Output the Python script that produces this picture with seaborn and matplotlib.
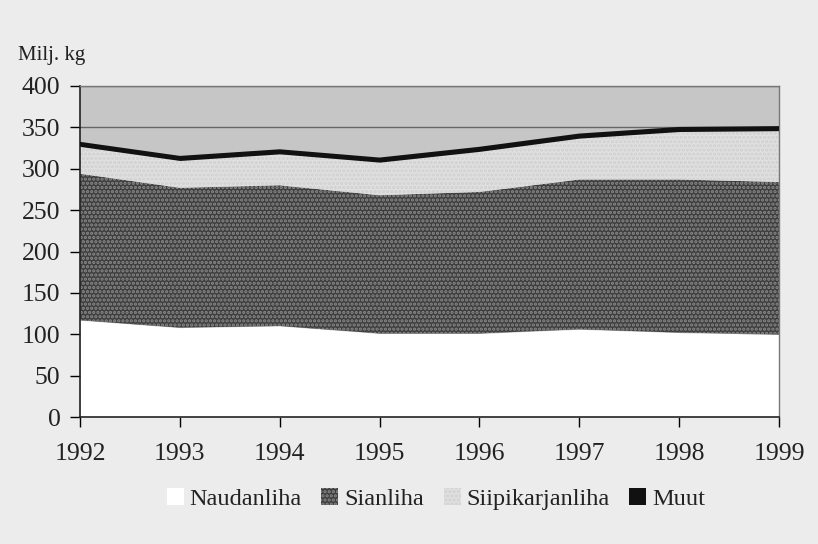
import numpy as np
import pandas as pd
import matplotlib
matplotlib.use("Agg")
import matplotlib.pyplot as plt
import seaborn as sns
from matplotlib.patches import Patch

years = [1992, 1993, 1994, 1995, 1996, 1997, 1998, 1999]
naudanliha = [117, 108, 110, 101, 101, 106, 102, 100]
sianliha = [177, 169, 170, 167, 171, 181, 185, 184]
siipikarjanliha = [33, 33, 38, 40, 49, 50, 58, 62]
muut = [3, 3, 3, 3, 3, 3, 3, 3]
series_names = ["Naudanliha", "Sianliha", "Siipikarjanliha", "Muut"]

df = pd.DataFrame({"Vuosi": years, "Naudanliha": naudanliha, "Sianliha": sianliha,
                   "Siipikarjanliha": siipikarjanliha, "Muut": muut})
df["top"] = df[series_names].sum(axis=1)

sns.set_theme(style="white")
plt.rcParams["font.family"] = ["Liberation Serif", "DejaVu Serif"]
plt.rcParams["hatch.linewidth"] = 1.6

bg = "#ececec"
fig = plt.figure(figsize=(8.18, 5.44), dpi=100, facecolor=bg)
ax = fig.add_axes([80 / 818, 1 - 417 / 544, (779 - 80) / 818, (417 - 86) / 544])
ax.set_facecolor("#c6c6c6")

styles = {
    "Naudanliha": dict(facecolor="white", edgecolor="white", hatch=None),
    "Sianliha": dict(facecolor="#3e3e3e", edgecolor="#8a8a8a", hatch="...."),
    "Siipikarjanliha": dict(facecolor="#e0e0e0", edgecolor="#d0d0d0", hatch="...."),
    "Muut": dict(facecolor="#111111", edgecolor="#111111", hatch=None),
}

base = np.zeros(len(df))
for name in series_names:
    top = base + df[name].values
    st = styles[name]
    ax.fill_between(df["Vuosi"], base, top, facecolor=st["facecolor"],
                    edgecolor=st["edgecolor"], hatch=st["hatch"], linewidth=0, zorder=2)
    base = top

# dark boundary of the "Muut" band
sns.lineplot(data=df, x="Vuosi", y="top", color="#111111", linewidth=3, ax=ax, zorder=3)

ax.set_xlim(1992, 1999)
ax.set_ylim(0, 400)
ax.set_yticks(np.arange(0, 401, 50))
ax.set_xticks(years)
ax.grid(axis="y", color="#666666", linewidth=1, zorder=1)
ax.set_axisbelow(True)
ax.set_xlabel("")
ax.set_ylabel("")
ax.tick_params(axis="both", which="major", direction="out", length=7, width=1,
               color="black", labelsize=18.5, labelcolor="#222222", bottom=True, left=True)
ax.tick_params(axis="x", pad=12)
ax.tick_params(axis="y", pad=7)
for s in ["left", "bottom"]:
    ax.spines[s].set_color("#222222")
    ax.spines[s].set_linewidth(1.2)
for s in ["top", "right"]:
    ax.spines[s].set_color("#777777")
    ax.spines[s].set_linewidth(1.0)

fig.text(18 / 818, 1 - 60 / 544, "Milj. kg", fontsize=15, color="#222222")

handles = [Patch(facecolor=styles[n]["facecolor"], edgecolor=styles[n]["edgecolor"] if styles[n]["hatch"] else "none",
                 hatch=styles[n]["hatch"], linewidth=0, label=n) for n in series_names]
fig.legend(handles=handles, loc="center", bbox_to_anchor=(436 / 818, 1 - 499 / 544), ncol=4,
           frameon=False, fontsize=17.5, handlelength=0.7, handleheight=0.7,
           handletextpad=0.25, columnspacing=0.8, labelcolor="#222222")

fig.savefig("out.png", dpi=100, facecolor=bg)
